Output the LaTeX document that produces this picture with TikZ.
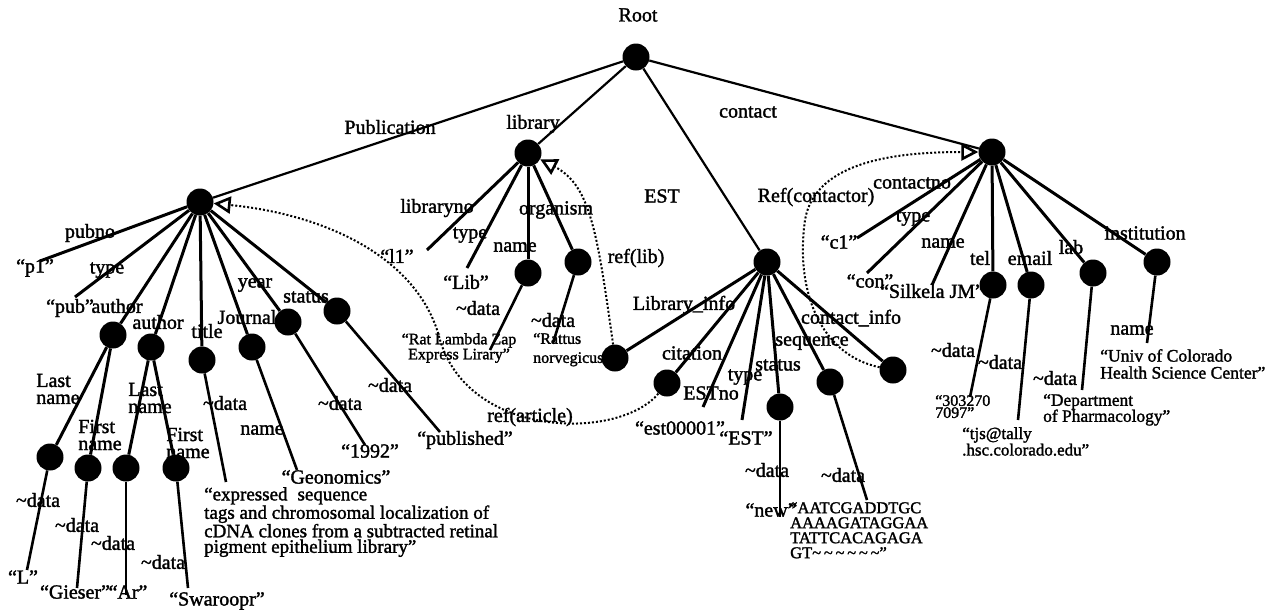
\documentclass[tikz,border=0pt]{standalone}
\usepackage{fontspec}
\setmainfont{Liberation Serif}[RawFeature={embolden=1.6}]
\usetikzlibrary{arrows.meta}
\usetikzlibrary{positioning}
\tikzstyle{vertex} = [circle, fill=black, inner sep=0pt, minimum size=27pt]
\tikzstyle{lbl} = [inner sep=0pt, align=left, font=\fontsize{20}{17}\selectfont]
\tikzstyle{block} = [inner sep=0pt, align=left, anchor=north west]
\tikzstyle{rootlink} = [draw, line width=2.2pt]
\tikzstyle{link} = [draw, line width=3pt]
\tikzstyle{leaflink} = [draw, line width=2.6pt]
\tikzstyle{reflink} = [draw, line width=2pt, dotted, -{Triangle[open, length=17pt, width=17pt, line width=2.6pt]}]

\begin{document}
\begin{tikzpicture}[x=1pt, y=-1pt]
	\useasboundingbox (0,0) rectangle (1281,614);

	% top level
	\node[vertex] (rootNode) at (636,57) {};
	\node[lbl] (lblRoot) at (638,15) {Root};
	\node[vertex] (publication) at (200,202) {};
	\node[vertex] (library) at (528,153) {};
	\node[vertex] (est) at (767,262) {};
	\node[vertex] (contact) at (992,152) {};
	\node[lbl] (lblPublication) at (390,127) {Publication};
	\node[lbl] (lblLibrary) at (533,124) {library};
	\node[lbl] (lblEst) at (662,196) {EST};
	\node[lbl] (lblContact) at (748,112) {contact};
	\path[rootlink] (rootNode) -- (publication);
	\path[rootlink] (rootNode) -- (library);
	\path[rootlink] (rootNode) -- (est);
	\path[rootlink] (rootNode) -- (contact);

	% publication
	\node[vertex] (author1) at (113,335) {};
	\node[vertex] (author2) at (151,347) {};
	\node[vertex] (title) at (202,360) {};
	\node[vertex] (journal) at (252,347) {};
	\node[vertex] (year) at (288,322) {};
	\node[vertex] (pubStatus) at (337,311) {};
	\coordinate (endP1) at (40,261);
	\coordinate (endPub) at (75,297);
	\node[lbl] (lblPubno) at (90,233) {pubno};
	\node[lbl] (leafP1) at (35,268) {``p1''};
	\node[lbl] (lblPubType) at (107,270) {type};
	\node[lbl] (leafPub) at (70,308) {``pub''};
	\node[lbl] (lblAuthor1) at (117,306) {author};
	\node[lbl] (lblAuthor2) at (158,322) {author};
	\node[lbl] (lblTitle) at (207,331) {title};
	\node[lbl] (lblJournal) at (247,317) {Journal};
	\node[lbl] (lblYear) at (255,285) {year};
	\node[lbl] (lblPubStatus) at (306,297) {status};
	\path[link] (publication) -- (endP1);
	\path[link] (publication) -- (endPub);
	\path[link] (publication) -- (author1);
	\path[link] (publication) -- (author2);
	\path[link] (publication) -- (title);
	\path[link] (publication) -- (journal);
	\path[link] (publication) -- (year);
	\path[link] (publication) -- (pubStatus);

	% authors
	\node[vertex] (last1) at (50,457) {};
	\node[vertex] (first1) at (88,468) {};
	\node[vertex] (last2) at (126,468) {};
	\node[vertex] (first2) at (176,468) {};
	\node[lbl] (lblLast1) at (58,389) {Last\\name};
	\node[lbl] (lblFirst1) at (100,435) {First\\name};
	\node[lbl] (lblLast2) at (150,398) {Last\\name};
	\node[lbl] (lblFirst2) at (188,443) {First\\name};
	\path[link] (author1) -- (last1);
	\path[link] (author1) -- (first1);
	\path[link] (author2) -- (last2);
	\path[link] (author2) -- (first2);
	\coordinate (endL) at (27,570);
	\coordinate (endGieser) at (77,588);
	\coordinate (endAr) at (126,595);
	\coordinate (endSwaroopr) at (188,588);
	\node[lbl] (lblData1) at (38,500) {\textasciitilde data};
	\node[lbl] (lblData2) at (77,525) {\textasciitilde data};
	\node[lbl] (lblData3) at (113,543) {\textasciitilde data};
	\node[lbl] (lblData4) at (163,562) {\textasciitilde data};
	\node[lbl] (leafL) at (23,577) {``L''};
	\node[lbl] (leafGieser) at (75,592) {``Gieser''};
	\node[lbl] (leafAr) at (128,592) {``Ar''};
	\node[lbl] (leafSwaroopr) at (217,601) {``Swaroopr''};
	\path[leaflink] (last1) -- (endL);
	\path[leaflink] (first1) -- (endGieser);
	\path[leaflink] (last2) -- (endAr);
	\path[leaflink] (first2) -- (endSwaroopr);

	% title, journal, year, status
	\coordinate (endTitle) at (226,482);
	\coordinate (endJournal) at (297,470);
	\coordinate (endYear) at (365,445);
	\coordinate (endPubStatus) at (440,432);
	\node[lbl] (lblTitleData) at (225,403) {\textasciitilde data};
	\node[lbl] (lblJournalName) at (262,430) {name};
	\node[lbl] (lblYearData) at (340,403) {\textasciitilde data};
	\node[lbl] (lblStatusData) at (390,385) {\textasciitilde data};
	\node[block, font=\fontsize{19}{15.5}\selectfont] (leafTitle) at (204,487) {``expressed\hspace{10pt}sequence\\tags and chromosomal localization of\\cDNA clones from a subtracted retinal\\pigment epithelium library''};
	\node[lbl] (leafGeonomics) at (336,477) {``Geonomics''};
	\node[lbl] (leaf1992) at (370,451) {``1992''};
	\node[lbl] (leafPublished) at (465,440) {``published''};
	\path[leaflink] (title) -- (endTitle);
	\path[leaflink] (journal) -- (endJournal);
	\path[leaflink] (year) -- (endYear);
	\path[leaflink] (pubStatus) -- (endPubStatus);

	% library
	\node[vertex] (libName) at (528,273) {};
	\node[vertex] (organism) at (578,262) {};
	\coordinate (endL1) at (427,250);
	\coordinate (endLib) at (467,268);
	\node[lbl] (lblLibraryno) at (437,208) {libraryno};
	\node[lbl] (leafL1) at (397,256) {``l1''};
	\node[lbl] (lblLibType) at (470,235) {type};
	\node[lbl] (leafLib) at (466,282) {``Lib''};
	\node[lbl] (lblLibName) at (515,247) {name};
	\node[lbl] (lblOrganism) at (556,210) {organism};
	\path[link] (library) -- (endL1);
	\path[link] (library) -- (endLib);
	\path[link] (library) -- (libName);
	\path[link] (library) -- (organism);
	\coordinate (endRat) at (490,350);
	\coordinate (endRattus) at (553,343);
	\node[lbl] (lblLibNameData) at (478,308) {\textasciitilde data};
	\node[lbl] (lblOrganismData) at (553,320) {\textasciitilde data};
	\node[inner sep=0pt, align=center, font=\fontsize{16}{13}\selectfont] (leafRat) at (459,348) {``Rat Lambda Zap\\Express Lirary''};
	\node[block, font=\fontsize{16}{19}\selectfont] (leafRattus) at (533,333) {``Rattus\\norvegicus''};
	\path[leaflink] (libName) -- (endRat);
	\path[leaflink] (organism) -- (endRattus);

	% EST
	\node[vertex] (libInfo) at (615,358) {};
	\node[vertex] (citation) at (667,383) {};
	\node[vertex] (estStatus) at (780,407) {};
	\node[vertex] (sequence) at (830,382) {};
	\node[vertex] (contactInfo) at (893,370) {};
	\coordinate (endEstno) at (703,407);
	\coordinate (endEstType) at (742,420);
	\node[lbl] (lblLibInfo) at (684,305) {Library\_info};
	\node[lbl] (lblCitation) at (692,353) {citation};
	\node[lbl] (lblEstno) at (711,393) {ESTno};
	\node[lbl] (leafEst00001) at (680,428) {``est00001''};
	\node[lbl] (lblEstType) at (745,377) {type};
	\node[lbl] (leafEstType) at (746,438) {``EST''};
	\node[lbl] (lblEstStatus) at (778,365) {status};
	\node[lbl] (lblSequence) at (812,343) {sequence};
	\node[lbl] (lblContactInfo) at (851,318) {contact\_info};
	\path[link] (est) -- (libInfo);
	\path[link] (est) -- (citation);
	\path[link] (est) -- (endEstno);
	\path[link] (est) -- (endEstType);
	\path[link] (est) -- (estStatus);
	\path[link] (est) -- (sequence);
	\path[link] (est) -- (contactInfo);
	\coordinate (endNew) at (780,517);
	\coordinate (endSeq) at (867,500);
	\node[lbl] (lblNewData) at (767,470) {\textasciitilde data};
	\node[lbl] (lblSeqData) at (843,475) {\textasciitilde data};
	\node[lbl] (leafNew) at (771,510) {``new''};
	\node[block, font=\fontsize{16.5}{15}\selectfont] (leafSeq) at (790,502) {``AATCGADDTGC\\AAAAGATAGGAA\\TATTCACAGAGA\\GT\textasciitilde\,\textasciitilde\,\textasciitilde\,\textasciitilde\,\textasciitilde\,\textasciitilde''};
	\path[leaflink] (estStatus) -- (endNew);
	\path[leaflink] (sequence) -- (endSeq);

	% contact
	\node[vertex] (tel) at (993,285) {};
	\node[vertex] (email) at (1031,285) {};
	\node[vertex] (lab) at (1093,273) {};
	\node[vertex] (institution) at (1157,262) {};
	\coordinate (endC1) at (857,238);
	\coordinate (endCon) at (867,273);
	\coordinate (endSilkela) at (932,285);
	\node[lbl] (lblContactno) at (912,183) {contactno};
	\node[lbl] (leafC1) at (839,242) {``c1''};
	\node[lbl] (lblConType) at (913,218) {type};
	\node[lbl] (leafCon) at (870,281) {``con''};
	\node[lbl] (lblConName) at (943,243) {name};
	\node[lbl] (leafSilkela) at (932,291) {``Silkela JM''};
	\node[lbl] (lblTel) at (980,258) {tel};
	\node[lbl] (lblEmail) at (1030,258) {email};
	\node[lbl] (lblLab) at (1071,247) {lab};
	\node[lbl] (lblInstitution) at (1145,233) {institution};
	\path[link] (contact) -- (endC1);
	\path[link] (contact) -- (endCon);
	\path[link] (contact) -- (endSilkela);
	\path[link] (contact) -- (tel);
	\path[link] (contact) -- (email);
	\path[link] (contact) -- (lab);
	\path[link] (contact) -- (institution);
	\coordinate (endTel) at (970,397);
	\coordinate (endEmail) at (1018,420);
	\coordinate (endLab) at (1082,390);
	\coordinate (endInst) at (1147,343);
	\node[lbl] (lblTelData) at (953,350) {\textasciitilde data};
	\node[lbl] (lblEmailData) at (1000,362) {\textasciitilde data};
	\node[lbl] (lblLabData) at (1055,378) {\textasciitilde data};
	\node[lbl] (lblInstName) at (1132,330) {name};
	\node[block, font=\fontsize{16}{12}\selectfont] (leafTel) at (935,395) {``303270\\7097''};
	\node[block, font=\fontsize{17}{15}\selectfont] (leafEmail) at (962,427) {``tjs@tally\\.hsc.colorado.edu''};
	\node[block, font=\fontsize{17.4}{16}\selectfont] (leafLab) at (1043,394) {``Department\\of Pharmacology''};
	\node[block, font=\fontsize{17.6}{17}\selectfont] (leafInst) at (1100,349) {``Univ of Colorado\\Health Science Center''};
	\path[leaflink] (tel) -- (endTel);
	\path[leaflink] (email) -- (endEmail);
	\path[leaflink] (lab) -- (endLab);
	\path[leaflink] (institution) -- (endInst);

	% references
	\node[lbl] (lblRefArticle) at (530,417) {ref(article)};
	\node[lbl] (lblRefLib) at (636,258) {ref(lib)};
	\node[lbl] (lblRefContactor) at (816,197) {Ref(contactor)};
	\path[reflink] (citation) .. controls (620,440) and (470,440) .. (440,340) .. controls (420,260) and (330,215) .. (publication);
	\path[reflink] (libInfo) .. controls (597,230) and (590,185) .. (library);
	\path[reflink] (contactInfo) .. controls (820,355) and (795,290) .. (805,220) .. controls (815,160) and (900,152) .. (contact);
\end{tikzpicture}
\end{document}
